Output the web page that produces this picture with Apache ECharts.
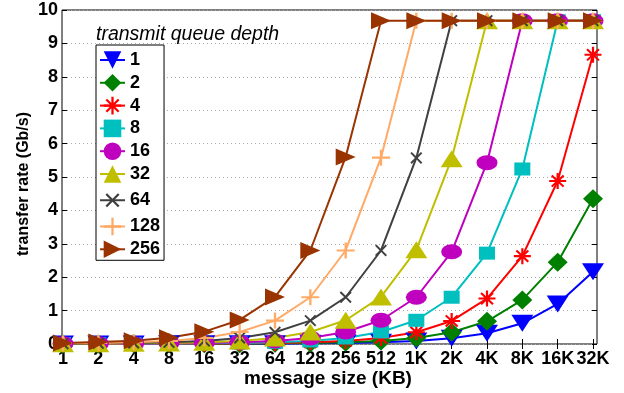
<!DOCTYPE html>
<html>
<head>
<meta charset="utf-8">
<script src="https://cdn.jsdelivr.net/npm/echarts@6/dist/echarts.min.js"></script>
<style>html,body{margin:0;padding:0;background:#fff}#c{width:624px;height:393px}</style>
</head>
<body>
<div id="c"></div>
<script>
const categories = ['1','2','4','8','16','32','64','128','256','512','1K','2K','4K','8K','16K','32K'];
const yTicks = [0,1,2,3,4,5,6,7,8,9,10];
const depthNames = ['1','2','4','8','16','32','64','128','256'];
const q1   = [0.00,0.00,0.00,0.01,0.01,0.01,0.01,0.02,0.03,0.05,0.09,0.17,0.32,0.62,1.20,2.16];
const q2   = [0.00,0.00,0.01,0.01,0.01,0.01,0.02,0.03,0.05,0.09,0.18,0.35,0.68,1.32,2.45,4.35];
const q4   = [0.00,0.01,0.01,0.01,0.01,0.02,0.03,0.05,0.09,0.18,0.35,0.69,1.36,2.63,4.88,8.66];
const q8   = [0.01,0.01,0.01,0.01,0.02,0.03,0.05,0.09,0.18,0.36,0.71,1.40,2.72,5.24,9.68,9.68];
const q16  = [0.01,0.01,0.01,0.02,0.03,0.05,0.09,0.18,0.36,0.71,1.40,2.76,5.43,9.68,9.68,9.68];
const q32  = [0.01,0.01,0.02,0.03,0.05,0.09,0.18,0.36,0.71,1.41,2.82,5.55,9.68,9.68,9.68,9.68];
const q64  = [0.01,0.02,0.03,0.05,0.09,0.18,0.35,0.70,1.40,2.80,5.57,9.68,9.68,9.68,9.68,9.68];
const q128 = [0.02,0.03,0.05,0.09,0.18,0.36,0.70,1.40,2.80,5.58,9.68,9.68,9.68,9.68,9.68,9.68];
const q256 = [0.03,0.06,0.10,0.19,0.37,0.72,1.41,2.80,5.60,9.68,9.68,9.68,9.68,9.68,9.68,9.68];
const seriesValues = [q1,q2,q4,q8,q16,q32,q64,q128,q256];

const FONT = 'Liberation Sans';
const plusPath = 'path://M-1.3,-10 L1.3,-10 L1.3,-1.3 L10,-1.3 L10,1.3 L1.3,1.3 L1.3,10 L-1.3,10 L-1.3,1.3 L-10,1.3 L-10,-1.3 L-1.3,-1.3 Z';
const asteriskPath = 'path://M-1.3,-10 L1.3,-10 L1.3,-1.3 L10,-1.3 L10,1.3 L1.3,1.3 L1.3,10 L-1.3,10 L-1.3,1.3 L-10,1.3 L-10,-1.3 L-1.3,-1.3 Z M-7.9,-6.1 L-6.1,-7.9 L7.9,6.1 L6.1,7.9 Z M-6.1,7.9 L-7.9,6.1 L6.1,-7.9 L7.9,-6.1 Z';
const ellipsePath = 'path://M0,-10 A10,10 0 1,1 0,10 A10,10 0 1,1 0,-10 Z';

const styles = [
  {color:'#0000FF', symbol:'triangle', size:[22,17], rotate:180},
  {color:'#008000', symbol:'diamond', size:[20,19], rotate:0},
  {color:'#FF0000', symbol:asteriskPath, size:[17,16], rotate:0},
  {color:'#00BFBF', symbol:'rect', size:[16,13], rotate:0},
  {color:'#BF00BF', symbol:ellipsePath, size:[21,15], rotate:0},
  {color:'#BFBF00', symbol:'triangle', size:[22,17], rotate:0},
  {color:'#404040', symbol:plusPath, size:[15,15], rotate:45},
  {color:'#FFAA66', symbol:plusPath, size:[18,16], rotate:0},
  {color:'#993300', symbol:'triangle', size:[17,20], rotate:-90}
];

const series = seriesValues.map((vals, i) => ({
  name: depthNames[i],
  type: 'line',
  data: vals,
  symbol: styles[i].symbol,
  symbolSize: styles[i].size,
  symbolRotate: styles[i].rotate,
  showAllSymbol: true,
  clip: false,
  lineStyle: {color: styles[i].color, width: 2},
  itemStyle: {color: styles[i].color, borderWidth: 0},
  emphasis: {disabled: true},
  animation: false
}));

const chart = echarts.init(document.getElementById('c'), null, {renderer: 'canvas'});
chart.setOption({
  animation: false,
  backgroundColor: '#fff',
  textStyle: {fontFamily: FONT},
  title: {
    text: 'transmit queue depth',
    left: 96, top: 25, padding: 0,
    textStyle: {fontFamily: FONT, fontSize: 19.5, fontStyle: 'italic', fontWeight: 'normal', color: '#000'}
  },
  legend: {
    orient: 'vertical',
    left: 96, top: 45,
    padding: [6, 4, 2, 3],
    itemWidth: 25, itemHeight: 22, itemGap: 4.8,
    backgroundColor: '#fff',
    borderColor: '#000', borderWidth: 1,
    textStyle: {fontFamily: FONT, fontSize: 18, fontWeight: 'bold', color: '#000'},
    data: depthNames
  },
  grid: {left: 63, right: 31, top: 10, bottom: 49, containLabel: false},
  graphic: [{
    type: 'rect', z: 0,
    shape: {x: 62, y: 10, width: 535, height: 334},
    style: {fill: 'none', stroke: '#000', lineWidth: 1}
  }],
  xAxis: [{
    type: 'category', data: categories, boundaryGap: false, position: 'bottom',
    name: 'message size (KB)', nameLocation: 'middle', nameGap: 25, nameMoveOverlap: false,
    nameTextStyle: {fontFamily: FONT, fontSize: 19, fontWeight: 'bold', color: '#000'},
    axisLine: {show: false},
    axisTick: {show: true, inside: true, length: 5, alignWithLabel: true, lineStyle: {color: '#000'}},
    axisLabel: {fontFamily: FONT, fontSize: 18, fontWeight: 'bold', color: '#000', margin: 6, interval: 0},
    splitLine: {show: false}
  }, {
    type: 'category', data: categories, boundaryGap: false, position: 'top',
    axisLine: {show: false},
    axisTick: {show: true, inside: true, length: 5, lineStyle: {color: '#000'}},
    axisLabel: {show: false},
    splitLine: {show: false}
  }],
  yAxis: [{
    type: 'value', min: yTicks[0], max: yTicks[yTicks.length - 1], interval: 1, position: 'left', offset: 1,
    name: 'transfer rate (Gb/s)', nameLocation: 'middle', nameGap: 30, nameMoveOverlap: false,
    nameTextStyle: {fontFamily: FONT, fontSize: 16, fontWeight: 'bold', color: '#000', padding: [0, 14, 0, 0]},
    axisLine: {show: false},
    axisTick: {show: true, inside: true, length: 5, lineStyle: {color: '#000'}},
    axisLabel: {fontFamily: FONT, fontSize: 18, fontWeight: 'bold', color: '#000', margin: 4},
    splitLine: {show: true, lineStyle: {color: '#aaa', type: [1, 3], width: 1}}
  }, {
    type: 'value', min: yTicks[0], max: yTicks[yTicks.length - 1], interval: 1, position: 'right', offset: 4,
    axisLine: {show: false},
    axisTick: {show: true, inside: true, length: 5, lineStyle: {color: '#000'}},
    axisLabel: {show: false},
    splitLine: {show: false}
  }],
  series: series
});
</script>
</body>
</html>
